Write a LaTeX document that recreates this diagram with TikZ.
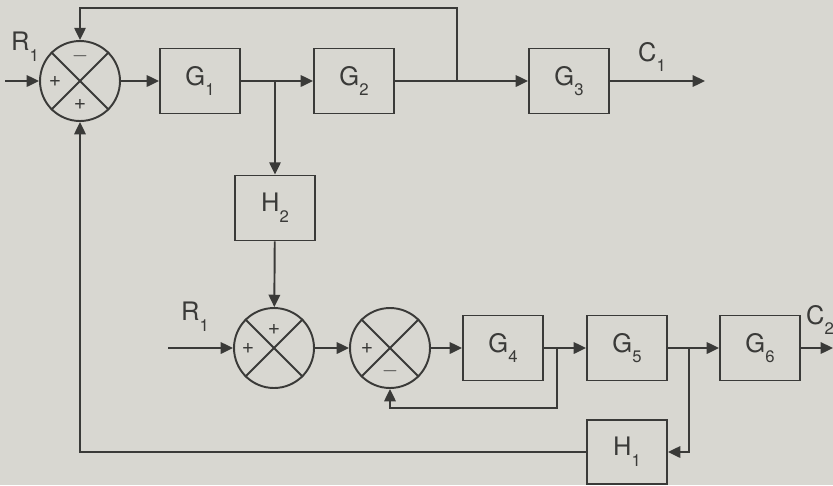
\documentclass[tikz,border=0pt]{standalone}
\usepackage{fontspec}
\setmainfont{TeX Gyre Heros}
\usetikzlibrary{arrows.meta}
\definecolor{paper}{HTML}{D8D7D1}
\definecolor{ink}{HTML}{3A3A38}
\tikzset{
  blk/.style={draw=ink,line width=1.1pt,minimum width=1.6cm,minimum height=1.3cm,inner sep=0pt},
  sumjn/.style={circle,draw=ink,line width=1.1pt,minimum size=1.6cm,inner sep=0pt},
  wire/.style={draw=ink,line width=1.1pt},
  sig/.style={wire,-{Triangle[length=7pt,width=6.5pt]}},
  sgn/.style={font=\large,text=ink,inner sep=0pt}
}
\begin{document}
\begin{tikzpicture}[x=0.02cm,y=-0.02cm,font=\fontsize{14.5}{17}\selectfont,text=ink]
  \useasboundingbox[fill=paper] (0,0) rectangle (833,485);
  \newcommand{\lab}[2]{#1\raisebox{-.8ex}{\fontsize{9.5}{10}\selectfont #2}}
  \newcommand{\cross}[1]{\draw[wire] (#1.north west) -- (#1.south east) (#1.north east) -- (#1.south west);}
  % upper row: first junction, G1, G2, G3
  \node[sumjn] (s1) at (80,81) {};
  \cross{s1}
  \node[sgn] at ([yshift=.5cm]s1.center) {$-$};
  \node[sgn] at ([xshift=-.5cm]s1.center) {+};
  \node[sgn] at ([yshift=-.46cm]s1.center) {+};
  \node[blk] (g1) at (200,81) {\lab{G}{1}};
  \node[blk] (g2) at (354,81) {\lab{G}{2}};
  \node[blk] (g3) at (569,81) {\lab{G}{3}};
  \node[blk] (h2) at (275,208) {\lab{H}{2}};
  \coordinate (r1a) at (5,81);
  \coordinate (c1) at (705,81);
  \coordinate (fb) at (457,8);
  \node at (25,47) {\lab{R}{1}};
  \node at (652,57) {\lab{C}{1}};
  \draw[sig] (r1a) -- (s1);
  \draw[sig] (s1) -- (g1);
  \draw[sig] (g1) -- (g2);
  \draw[sig] (g1.east -| h2) -- (h2);
  \draw[sig] (g2) -- (g3);
  \draw[sig] (g2.east -| fb) -- (fb) -| (s1.north);
  \draw[sig] (g3) -- (c1);
  % lower row: two junctions, G4, G5, G6 and H1
  \node[sumjn] (s2) at (274,348) {};
  \cross{s2}
  \node[sgn] at ([yshift=.38cm]s2.center) {+};
  \node[sgn] at ([xshift=-.52cm]s2.center) {+};
  \node[sumjn] (s3) at (390,348) {};
  \cross{s3}
  \node[sgn] at ([xshift=-.46cm]s3.center) {+};
  \node[sgn] at ([yshift=-.46cm]s3.center) {$-$};
  \node[blk] (g4) at (503,348) {\lab{G}{4}};
  \node[blk] (g5) at (627,348) {\lab{G}{5}};
  \node[blk] (g6) at (760,348) {\lab{G}{6}};
  \node[blk,minimum height=1.28cm] (h1) at (627,452) {\lab{H}{1}};
  \coordinate (r1b) at (168,348);
  \coordinate (c2) at (833,348);
  \coordinate (b3) at (557,408);
  \coordinate (b4) at (689,452);
  \node at (195,317) {\lab{R}{1}};
  \node at (820,320) {\lab{C}{2}};
  \draw[sig] (h2) -- (s2);
  \draw[sig] (r1b) -- (s2);
  \draw[sig] (s2) -- (s3);
  \draw[sig] (s3) -- (g4);
  \draw[sig] (g4) -- (g5);
  \draw[sig] (g4.east -| b3) -- (b3) -| (s3.south);
  \draw[sig] (g5) -- (g6);
  \draw[sig] (g5.east -| b4) -- (b4) -- (h1.east);
  \draw[sig] (g6) -- (c2);
  \draw[sig] (h1.west) -| (s1.south);
\end{tikzpicture}
\end{document}
